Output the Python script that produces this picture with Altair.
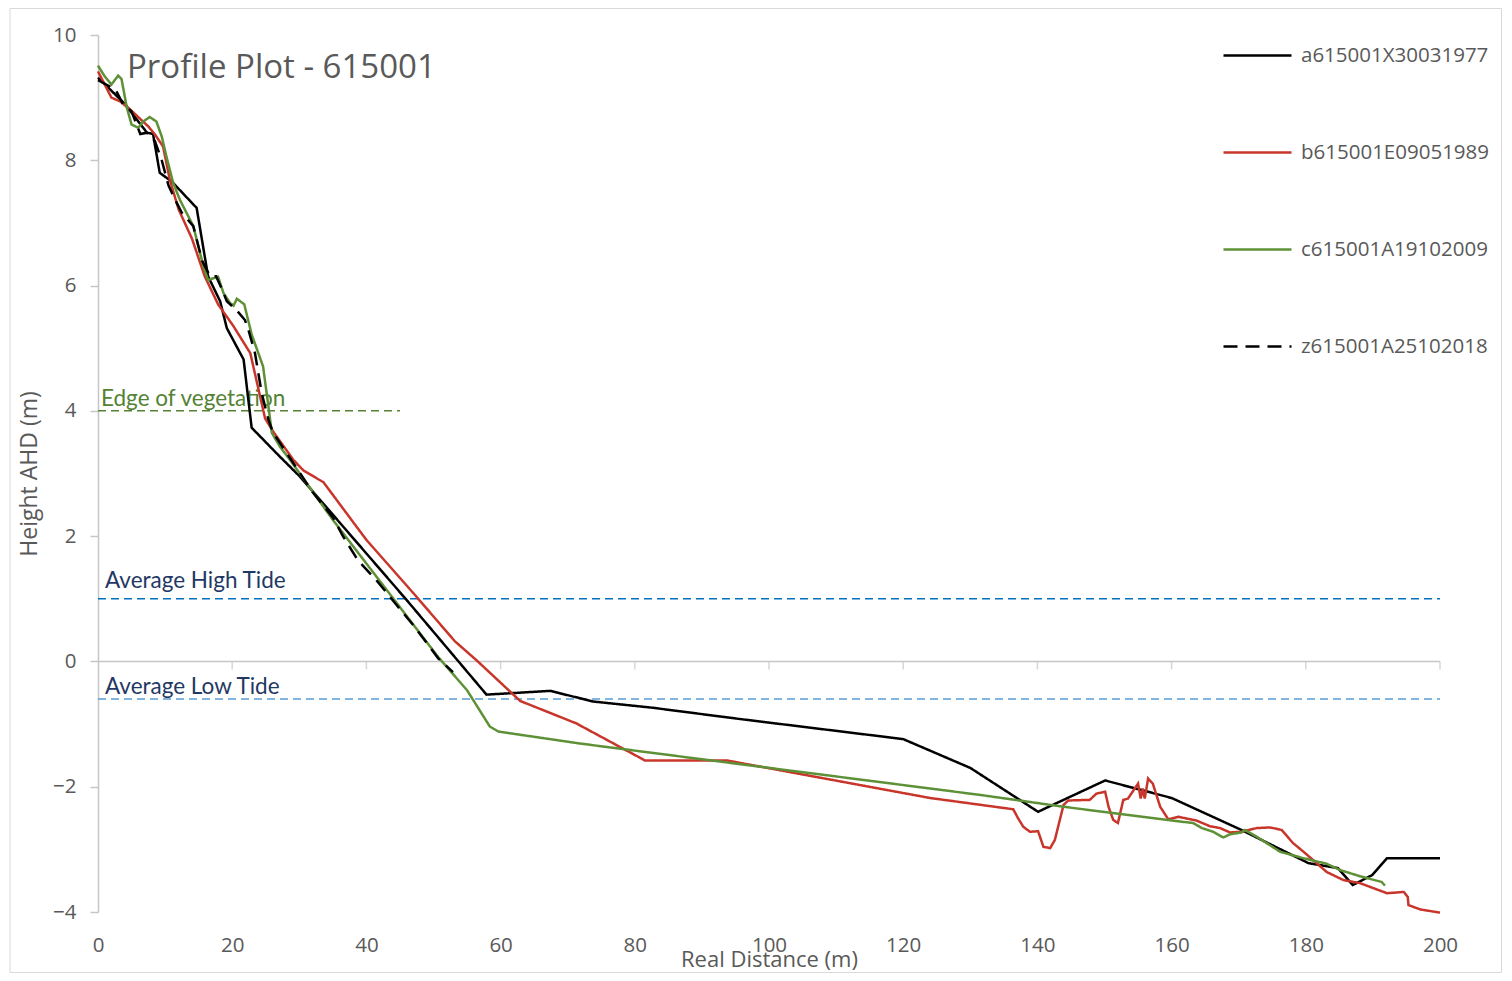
import altair as alt
import pandas as pd

# ---------------- data ----------------
series_names = ["a615001X30031977", "b615001E09051989", "c615001A19102009", "z615001A25102018"]
series_colors = ["#000000", "#C8362B", "#5E9137", "#000000"]
series_dash = [[1, 0], [1, 0], [1, 0], [14, 8]]

a_x = [0, 4, 7.3, 8.2, 9.2, 11, 14.7, 16.4, 18.2, 19.2, 21.7, 22.9, 27.1, 30.1, 46, 57.9, 67.4,
       73.8, 82.7, 95.7, 120, 130, 140.1, 150.1, 160, 170.2, 180.4, 184.8, 187, 189.9, 192.1, 200]
a_y = [9.32, 8.9, 8.44, 8.42, 7.8, 7.66, 7.24, 6.15, 5.75, 5.32, 4.82, 3.73, 3.27, 2.95, 0.98, -0.53, -0.47,
       -0.64, -0.74, -0.92, -1.24, -1.70, -2.40, -1.90, -2.18, -2.68, -3.22, -3.30, -3.57, -3.41, -3.14, -3.14]

b_x = [0, 2, 3.3, 4.8, 7.5, 8.5, 9.7, 10.7, 12, 14, 15.9, 17.9, 20.2, 22.7, 24.9, 26.1, 29.1, 30.6, 33.6,
       40, 47, 53.2, 56.4, 60.9, 62.9, 71.3, 81.5, 93.7, 95.7, 124, 136.4, 137.1, 137.9, 138.9, 140.1,
       140.9, 141.9, 142.6, 143.9, 144.6, 147.8, 148.8, 150.1, 150.6, 151.3, 152, 152.8, 153.5, 155,
       155.4, 155.7, 156, 156.5, 157.2, 158.3, 159.5, 161, 163.7, 165.7, 167.2, 168.7, 170.4, 172.7,
       174.7, 176.4, 178.1, 179.9, 183.1, 185.6, 188.1, 192.1, 194.6, 195.2, 195.3, 197.1, 200]
b_y = [9.42, 9.0, 8.94, 8.81, 8.54, 8.41, 8.22, 7.69, 7.22, 6.75, 6.15, 5.70, 5.35, 4.92, 3.88, 3.67, 3.22, 3.05, 2.86,
       1.94, 1.09, 0.32, 0.02, -0.43, -0.63, -0.99, -1.58, -1.58, -1.62, -2.18, -2.36, -2.50, -2.64, -2.72, -2.71,
       -2.96, -2.98, -2.85, -2.29, -2.22, -2.21, -2.11, -2.08, -2.32, -2.53, -2.58, -2.21, -2.19, -1.95,
       -2.19, -2.03, -2.19, -1.87, -1.95, -2.32, -2.52, -2.48, -2.54, -2.63, -2.66, -2.73, -2.72, -2.66,
       -2.65, -2.69, -2.90, -3.06, -3.36, -3.49, -3.54, -3.70, -3.68, -3.76, -3.89, -3.96, -4.01]

c_x = [0, 1, 2, 3, 3.5, 4.3, 5, 6, 6.75, 7.7, 8.7, 9.5, 10.2, 11.2, 12.2, 14.2, 15.7, 16.4, 17.9, 18.7,
       19.7, 20.2, 20.7, 21.8, 22.9, 23.9, 24.6, 25.4, 25.9, 27.1, 28.6, 35, 50.7, 55, 58.4, 59.7, 71.8,
       78.3, 95.7, 131.4, 143.9, 159.3, 163.2, 164.5, 166.2, 167.7, 168.7, 170.4, 170.9, 172.7, 176.2,
       179.6, 183.1, 185.1, 188.1, 191.3, 191.8]
c_y = [9.51, 9.34, 9.21, 9.35, 9.30, 8.84, 8.57, 8.52, 8.62, 8.69, 8.62, 8.38, 8.06, 7.64, 7.37, 6.95, 6.31, 6.09, 6.14, 5.88,
       5.72, 5.68, 5.79, 5.70, 5.22, 4.92, 4.71, 4.07, 3.65, 3.43, 3.22, 2.26, 0.07, -0.46, -1.04, -1.12, -1.31,
       -1.40, -1.64, -2.13, -2.32, -2.53, -2.58, -2.66, -2.72, -2.81, -2.76, -2.73, -2.69, -2.80, -3.04,
       -3.14, -3.23, -3.33, -3.43, -3.52, -3.58]

z_x = [0, 2.6, 3.7, 5, 6.3, 7.3, 8.5, 9.5, 10.5, 11.5, 12.5, 14.2, 15.5, 16.7, 17.6, 18.4, 19.2, 20.7, 21.9,
       22.4, 23.4, 24.4, 25.4, 26.1, 27.1, 32, 35, 36.5, 38.7, 41.7, 44.5, 47.2, 50.7, 52.9]
z_y = [9.28, 9.13, 8.9, 8.78, 8.42, 8.44, 8.3, 8.0, 7.6, 7.37, 7.16, 6.95, 6.4, 6.15, 6.15, 5.96, 5.75, 5.6, 5.45,
       5.3, 4.92, 4.28, 3.86, 3.65, 3.49, 2.7, 2.3, 2.0, 1.62, 1.27, 0.9, 0.55, 0.05, -0.17]

ref_names = ["Edge of vegetation", "Average High Tide", "Average Low Tide"]
ref_y = [4, 1, -0.6]
ref_x_end = [45, 200, 200]
ref_line_colors = ["#548235", "#0070C0", "#5B9BD5"]
ref_text_colors = ["#548235", "#1F3864", "#1F3864"]

x_ticks = [0, 20, 40, 60, 80, 100, 120, 140, 160, 180, 200]
y_ticks = [-4, -2, 0, 2, 4, 6, 8, 10]
chart_title = "Profile Plot - 615001"

# ---------------- build ----------------
rows = []
for name, xs, ys in zip(series_names, [a_x, b_x, c_x, z_x], [a_y, b_y, c_y, z_y]):
    for i, (xv, yv) in enumerate(zip(xs, ys)):
        rows.append({"series": name, "x": xv, "y": yv, "order": i})
df = pd.DataFrame(rows)

GRAY = "#595959"
AXIS_GRAY = "#C6C6C6"
FONT = "Open Sans"

x_scale = alt.Scale(domain=[0, 200], nice=False, zero=False)
y_scale = alt.Scale(domain=[-4, 10], nice=False, zero=False)

x_axis = alt.Axis(title="Real Distance (m)", values=x_ticks, format="d", domain=False, ticks=False, grid=False,
                  labelFontSize=20.5, labelColor=GRAY, labelPadding=23, labelFont=FONT,
                  titleFontSize=22, titleColor=GRAY, titleFontWeight="normal", titlePadding=-6,
                  titleFont=FONT, labelFlush=False)
y_axis = alt.Axis(title="Height AHD (m)", values=y_ticks, format="d", grid=False, domain=True,
                  domainColor=AXIS_GRAY, domainWidth=1.5, ticks=True, tickColor=AXIS_GRAY, tickSize=8,
                  tickWidth=1.5, labelFontSize=20.5, labelColor=GRAY, labelPadding=14, labelFont=FONT,
                  titleFontSize=23, titleColor=GRAY, titleFontWeight="normal", titlePadding=11,
                  titleFont=FONT)

legend = alt.Legend(title=None, orient="none", legendX=1124, legendY=-15, symbolType="stroke",
                    symbolSize=4624, symbolStrokeWidth=2.5, labelFontSize=20.5, labelColor=GRAY,
                    labelFont=FONT, rowPadding=51, labelOffset=8, labelLimit=400)

layers = []

# frame
frame = alt.Chart(pd.DataFrame({"k": [0]})).mark_rect(fill=None, stroke="#D9D9D9", strokeWidth=1).encode(
    x=alt.value(-88), x2=alt.value(1403.5), y=alt.value(-26.5), y2=alt.value(937.5))
layers.append(frame)

# x axis line at y = 0 with ticks
zero_df = pd.DataFrame({"x0": [x_ticks[0]], "x1": [x_ticks[-1]], "y": [0]})
zero_line = alt.Chart(zero_df).mark_rule(color=AXIS_GRAY, strokeWidth=1.5).encode(
    x=alt.X("x0:Q", scale=x_scale, axis=x_axis), x2="x1:Q",
    y=alt.Y("y:Q", scale=y_scale, axis=y_axis))
layers.append(zero_line)
tick_df = pd.DataFrame({"x": x_ticks[1:], "y": [0] * (len(x_ticks) - 1)})
zero_ticks = alt.Chart(tick_df).mark_tick(orient="vertical", size=8, thickness=1.5, color=AXIS_GRAY,
                                          yOffset=4).encode(
    x=alt.X("x:Q", scale=x_scale), y=alt.Y("y:Q", scale=y_scale))
layers.append(zero_ticks)

# reference lines + labels
text_dx = [3, 7, 7]
text_dy = [-5, -11, -5]
for i, nm in enumerate(ref_names):
    rdf = pd.DataFrame({"x0": [0], "x1": [ref_x_end[i]], "y": [ref_y[i]], "label": [nm]})
    rule = alt.Chart(rdf).mark_rule(color=ref_line_colors[i], strokeWidth=1.5, strokeDash=[8, 5]).encode(
        x=alt.X("x0:Q", scale=x_scale), x2="x1:Q", y=alt.Y("y:Q", scale=y_scale))
    txt = alt.Chart(rdf).mark_text(align="left", baseline="alphabetic", dx=text_dx[i], dy=text_dy[i],
                                   fontSize=22.5, font="Lato", color=ref_text_colors[i]).encode(
        x=alt.X("x0:Q", scale=x_scale), y=alt.Y("y:Q", scale=y_scale), text="label:N")
    layers += [rule, txt]

# profile lines
lines = alt.Chart(df).mark_line(strokeWidth=2.5).encode(
    x=alt.X("x:Q", scale=x_scale),
    y=alt.Y("y:Q", scale=y_scale),
    color=alt.Color("series:N", scale=alt.Scale(domain=series_names, range=series_colors), legend=legend),
    strokeDash=alt.StrokeDash("series:N", scale=alt.Scale(domain=series_names, range=series_dash), legend=legend),
    order="order:Q",
)
layers.append(lines)

# title
title = alt.Chart(pd.DataFrame({"t": [chart_title]})).mark_text(
    align="left", baseline="middle", fontSize=33, font=FONT, color=GRAY).encode(
    x=alt.value(29), y=alt.value(33), text="t:N")
layers.append(title)

chart = alt.layer(*layers).properties(
    width=1342, height=877,
    autosize=alt.AutoSizeParams(type="none"),
    padding={"left": 90, "top": 27, "right": 62, "bottom": 61},
).configure_view(stroke=None)

chart.save("out.html", embed_options={"renderer": "svg", "actions": False})
